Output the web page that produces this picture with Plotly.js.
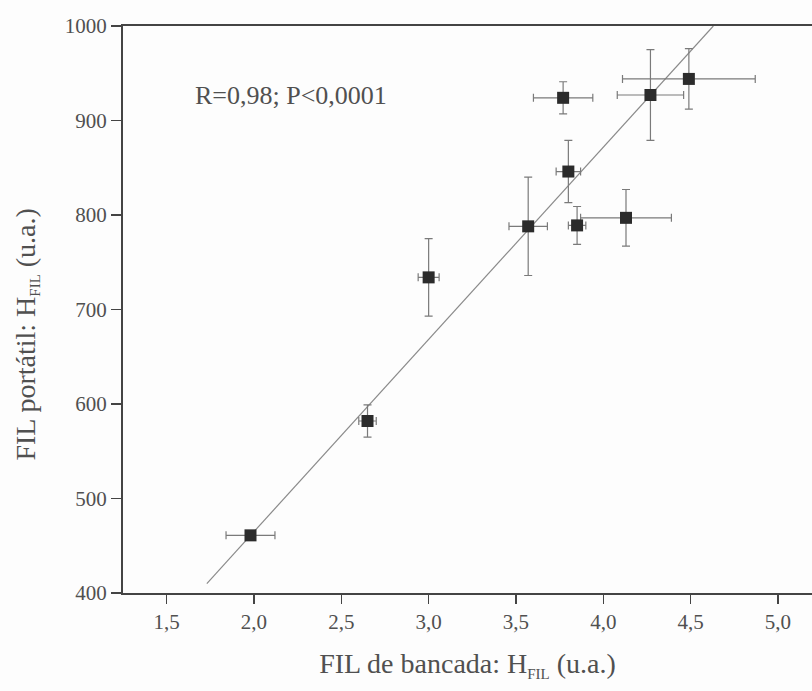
<!DOCTYPE html>
<html>
<head>
<meta charset="utf-8">
<script src="https://cdn.plot.ly/plotly-3.0.1.min.js"></script>
<style>html,body{margin:0;padding:0;background:#fdfdfd;}#chart{width:812px;height:691px;}</style>
</head>
<body>
<div id="chart"></div>
<script>
// Data
const benchFIL = [1.98, 2.65, 3.00, 3.57, 3.80, 3.85, 4.13, 3.77, 4.27, 4.49];   // FIL de bancada
const portableFIL = [461, 582, 734, 788, 846, 789, 797, 924, 927, 944];         // FIL portátil
const benchErr = [0.14, 0.05, 0.06, 0.11, 0.07, 0.05, 0.26, 0.17, 0.19, 0.38];
const portableErr = [4, 17, 41, 52, 33, 20, 30, 17, 48, 32];
const fitX = [1.73, 4.63];
const fitY = [410, 1000];
const xTickVals = [1.5, 2.0, 2.5, 3.0, 3.5, 4.0, 4.5, 5.0];
const xTickText = ["1,5", "2,0", "2,5", "3,0", "3,5", "4,0", "4,5", "5,0"];
const yTickVals = [400, 500, 600, 700, 800, 900, 1000];
const annotationText = "R=0,98; P<0,0001";

const serif = "Liberation Serif";
const textColor = "#505050";
const axisColor = "#444444";

const traces = [
  {
    x: fitX, y: fitY, type: "scatter", mode: "lines",
    line: {color: "#8a8a8a", width: 1.2},
    hoverinfo: "skip", showlegend: false
  },
  {
    x: benchFIL, y: portableFIL, type: "scatter", mode: "markers",
    marker: {symbol: "square", size: 12, color: "#2b2b2b", line: {width: 0}},
    error_x: {type: "data", array: benchErr, visible: true, color: "#7a7a7a", thickness: 1.2, width: 4},
    error_y: {type: "data", array: portableErr, visible: true, color: "#7a7a7a", thickness: 1.2, width: 4},
    showlegend: false
  }
];

const layout = {
  width: 812, height: 691,
  margin: {l: 123, r: 0, t: 26, b: 98},
  paper_bgcolor: "#fdfdfd", plot_bgcolor: "#fdfdfd",
  font: {family: serif, color: textColor},
  showlegend: false,
  xaxis: {
    range: [1.25, 5.195],
    tickmode: "array", tickvals: xTickVals, ticktext: xTickText,
    ticks: "outside", ticklen: 9, tickwidth: 1.5, tickcolor: axisColor,
    tickfont: {family: serif, size: 21, color: textColor},
    showline: true, linecolor: axisColor, linewidth: 2, mirror: true,
    showgrid: false, zeroline: false,
    title: {text: "FIL de bancada: H<sub><span style='font-size:15px'>FIL</span></sub> (u.a.)", font: {family: serif, size: 28, color: textColor}, standoff: 20}
  },
  yaxis: {
    range: [400, 1000],
    tickmode: "array", tickvals: yTickVals,
    ticks: "outside", ticklen: 10, tickwidth: 1.5, tickcolor: axisColor,
    tickfont: {family: serif, size: 21, color: textColor},
    showline: true, linecolor: axisColor, linewidth: 2, mirror: false,
    showgrid: false, zeroline: false
  },
  annotations: [
    {
      text: annotationText, xref: "paper", yref: "paper",
      x: 0.1016, y: 0.878, xanchor: "left", yanchor: "middle",
      showarrow: false, font: {family: serif, size: 26, color: textColor}
    },
    {
      text: "FIL portátil: H<sub><span style='font-size:15px'>FIL</span></sub> (u.a.)", xref: "paper", yref: "paper",
      x: -0.14, y: 0.455, xanchor: "center", yanchor: "middle", textangle: -90,
      showarrow: false, font: {family: serif, size: 28, color: textColor}
    }
  ]
};

Plotly.newPlot("chart", traces, layout, {displayModeBar: false, staticPlot: true});
</script>
</body>
</html>
